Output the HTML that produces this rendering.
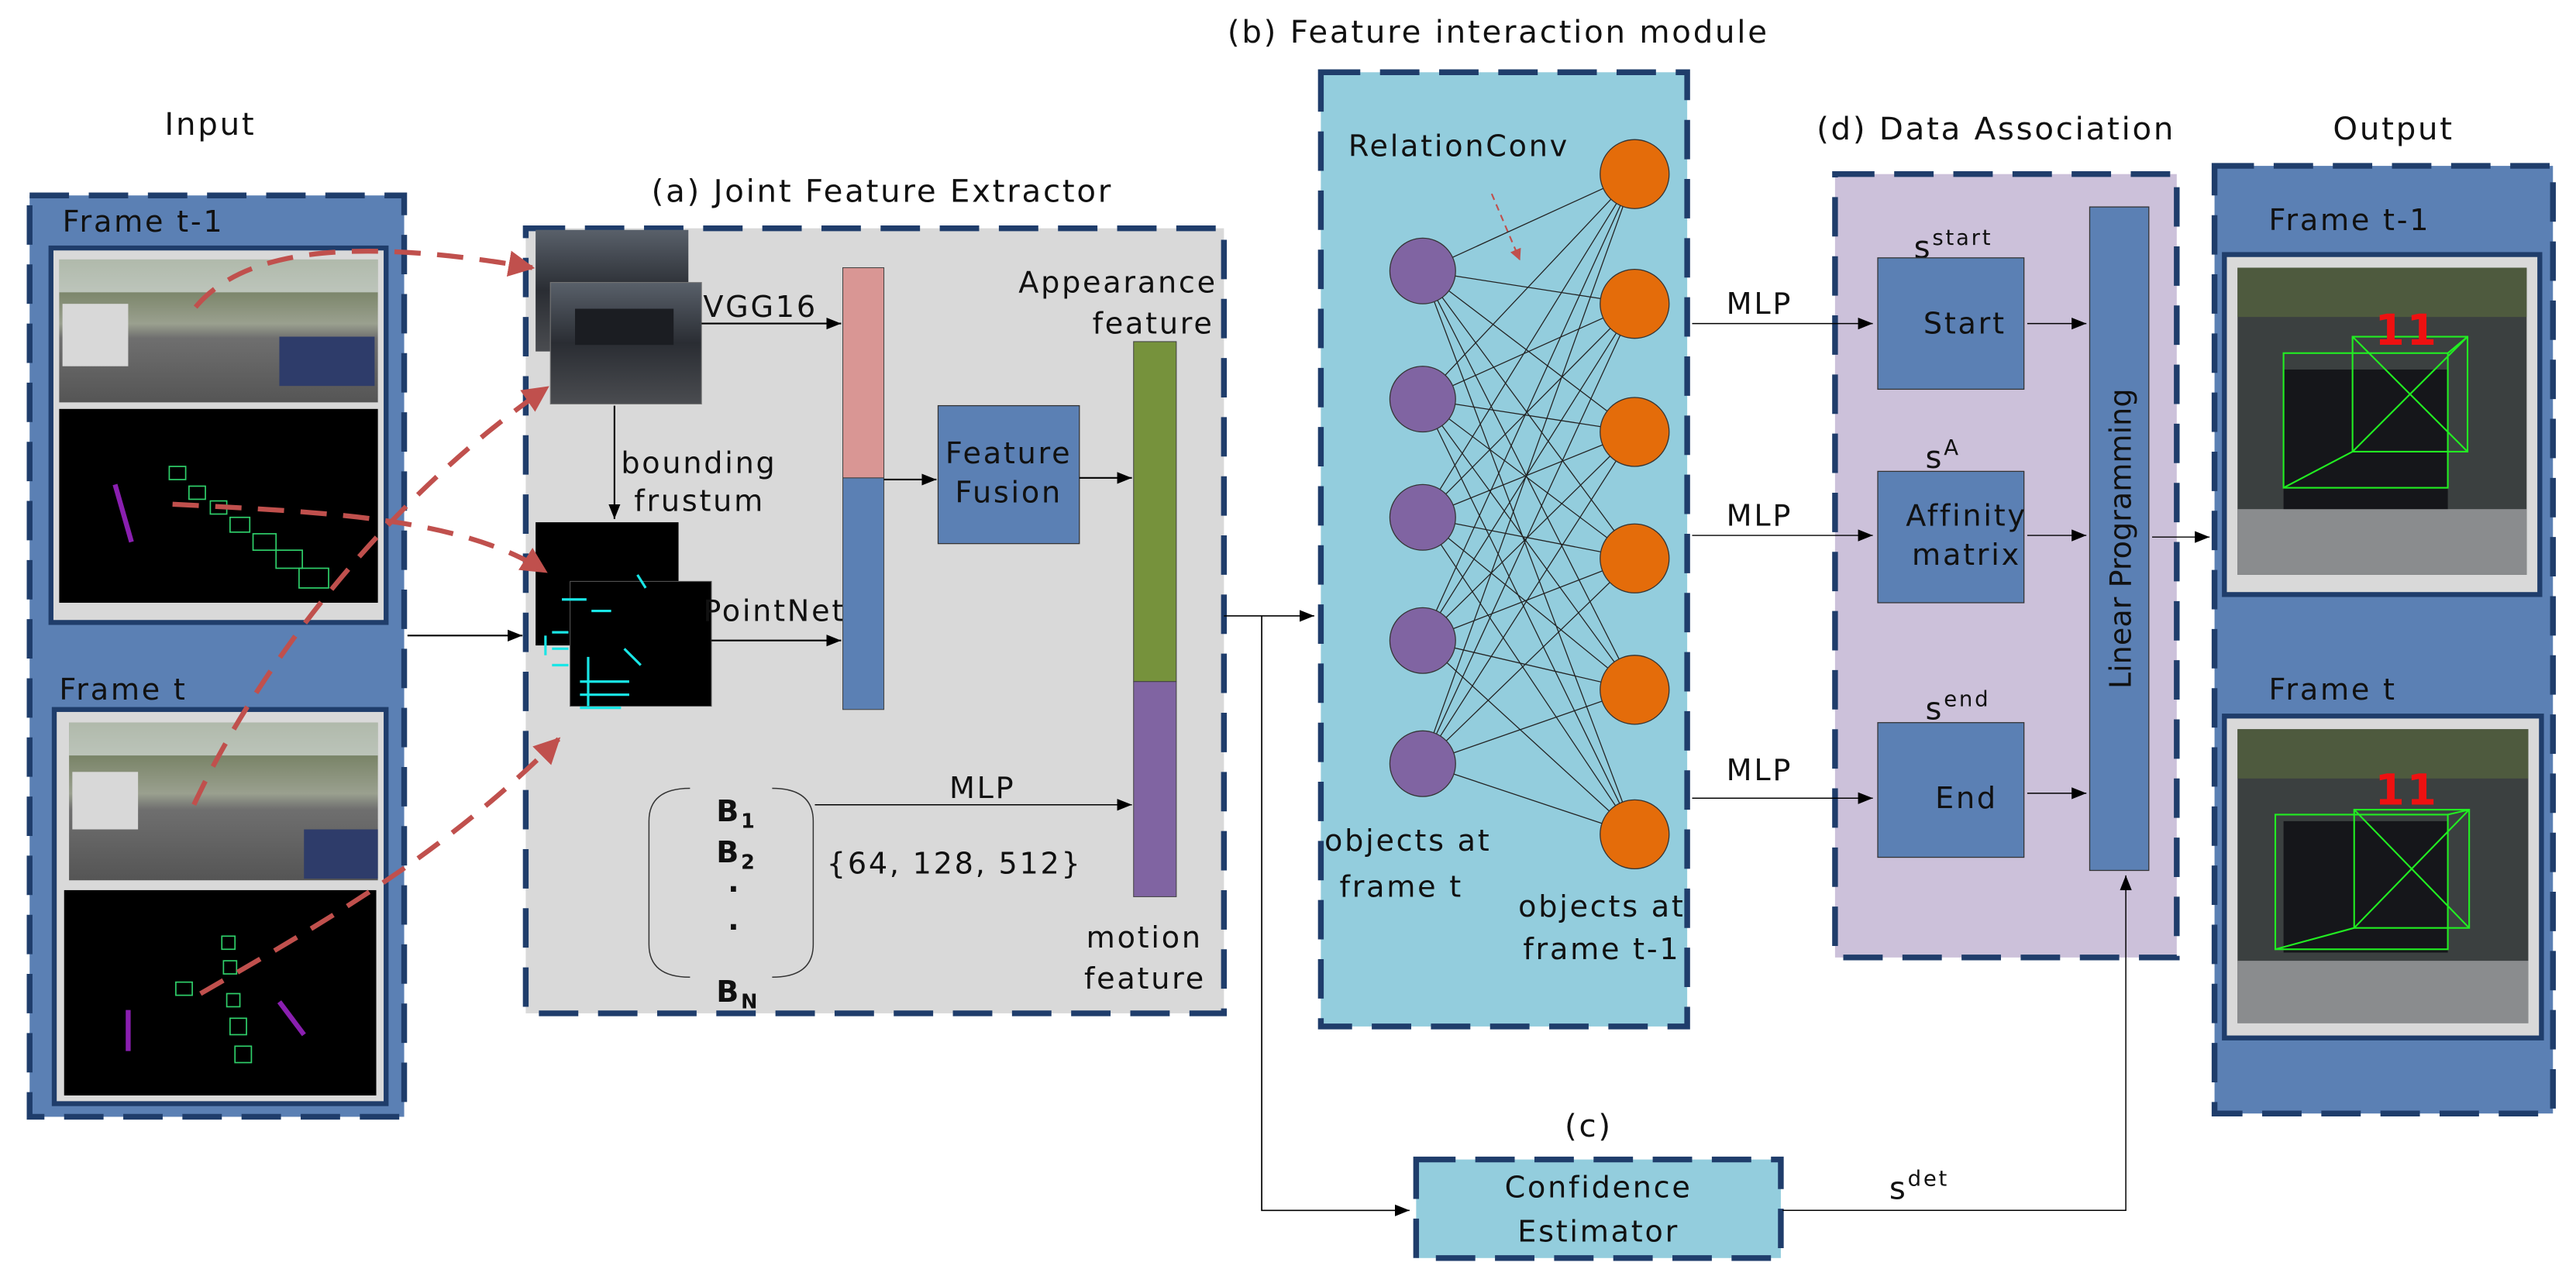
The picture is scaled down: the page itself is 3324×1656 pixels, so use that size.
<!DOCTYPE html>
<html><head><meta charset="utf-8"><style>
html,body{margin:0;padding:0;background:#fff}
svg{display:block}
text{font-family:"DejaVu Sans","Liberation Sans",sans-serif;fill:#111;letter-spacing:1.3px}
</style></head><body>
<svg width="3324" height="1656" viewBox="0 0 1568 781.2" xmlns="http://www.w3.org/2000/svg">
<defs>
<marker id="a" viewBox="0 0 10 10" refX="10" refY="5" markerWidth="9" markerHeight="9" orient="auto" markerUnits="userSpaceOnUse"><path d="M0,1 L10,5 L0,9 z" fill="#000"/></marker>
<marker id="r" viewBox="0 0 10 10" refX="9" refY="5" markerWidth="16" markerHeight="16" orient="auto" markerUnits="userSpaceOnUse"><path d="M0,0 L10,5 L0,10 z" fill="#c0504d"/></marker>
<marker id="rs" viewBox="0 0 10 10" refX="9" refY="5" markerWidth="7" markerHeight="7" orient="auto" markerUnits="userSpaceOnUse"><path d="M0,0 L10,5 L0,10 z" fill="#c0504d"/></marker>
<linearGradient id="street" x1="0" y1="0" x2="0" y2="1"><stop offset="0" stop-color="#5d6b45"/><stop offset="0.45" stop-color="#9aa08f"/><stop offset="0.55" stop-color="#6f6f6f"/><stop offset="1" stop-color="#555"/></linearGradient>
<linearGradient id="car" x1="0" y1="0" x2="0" y2="1"><stop offset="0" stop-color="#59606a"/><stop offset="0.5" stop-color="#2a2d33"/><stop offset="1" stop-color="#4a4c50"/></linearGradient>
</defs>

<!-- Input -->
<text x="128" y="82" font-size="19" text-anchor="middle">Input</text>
<rect x="18" y="119" width="228" height="561" fill="#5b80b4" stroke="#1f3d6b" stroke-width="3.5" stroke-dasharray="24,12"/>
<text x="38" y="141" font-size="18">Frame t-1</text>
<rect x="31" y="151" width="204" height="228" fill="#d9d9d9" stroke="#1f3d6b" stroke-width="3"/>
<rect x="36" y="158" width="194" height="87" fill="url(#street)"/>
<rect x="36" y="158" width="194" height="20" fill="#e8eef0" opacity="0.6"/>
<rect x="38" y="185" width="40" height="38" fill="#d8d8d8"/>
<rect x="170" y="205" width="58" height="30" fill="#2e3c6a"/>
<rect x="36" y="249" width="194" height="118" fill="#000"/>
<g stroke="#2fcf6a" stroke-width="0.8" fill="none"><rect x="115" y="296" width="10" height="8"/><rect x="128" y="305" width="10" height="8"/><rect x="140" y="315" width="12" height="9"/><rect x="154" y="325" width="14" height="10"/><rect x="168" y="335" width="16" height="11"/><rect x="182" y="346" width="18" height="12"/><rect x="103" y="284" width="10" height="8"/></g>
<path d="M70,295 L80,330" stroke="#8a1fb0" stroke-width="3"/>

<text x="36" y="426" font-size="18">Frame t</text>
<rect x="33" y="432" width="202" height="240" fill="#d9d9d9" stroke="#1f3d6b" stroke-width="3"/>
<rect x="42" y="440" width="188" height="96" fill="url(#street)"/>
<rect x="42" y="440" width="188" height="20" fill="#e8eef0" opacity="0.6"/>
<rect x="44" y="470" width="40" height="35" fill="#d8d8d8"/>
<rect x="185" y="505" width="45" height="30" fill="#2e3c6a"/>
<rect x="39" y="542" width="190" height="125" fill="#000"/>
<g stroke="#2fcf6a" stroke-width="0.8" fill="none"><rect x="107" y="598" width="10" height="8"/><rect x="136" y="585" width="8" height="8"/><rect x="138" y="605" width="8" height="8"/><rect x="140" y="620" width="10" height="10"/><rect x="143" y="637" width="10" height="10"/><rect x="135" y="570" width="8" height="8"/></g>
<path d="M78,615 L78,640 M170,610 L185,630" stroke="#8a1fb0" stroke-width="3"/>

<!-- Joint Feature Extractor -->
<text x="537" y="123" font-size="19" text-anchor="middle">(a) Joint Feature Extractor</text>
<rect x="320" y="139" width="425" height="478" fill="#d9d9d9" stroke="#1f3d6b" stroke-width="3.5" stroke-dasharray="24,12"/>
<rect x="326" y="140" width="93" height="74" fill="url(#car)"/>
<rect x="335" y="172" width="92" height="74" fill="url(#car)" stroke="#777" stroke-width="0.5"/>
<rect x="350" y="188" width="60" height="22" fill="#1b1d22"/>
<text x="428" y="193" font-size="18">VGG16</text>
<line x1="427" y1="197" x2="512" y2="197" stroke="#000" stroke-width="1" marker-end="url(#a)"/>
<text x="378" y="288" font-size="18">bounding</text>
<text x="386" y="311" font-size="18">frustum</text>
<line x1="374" y1="247" x2="374" y2="316" stroke="#000" stroke-width="1" marker-end="url(#a)"/>
<rect x="326" y="318" width="87" height="75" fill="#000"/>
<rect x="347" y="354" width="86" height="76" fill="#000" stroke="#555" stroke-width="0.5"/>
<g stroke="#19e6e6" stroke-width="1.5" fill="none"><path d="M342,365 h15 M332,387 v12 M336,385 h10 M336,395 h10 M336,405 h10 M360,372 h12 M353,415 h30 M353,423 h30 M353,431 h25 M358,400 v30 M388,350 l5,8 M380,395 l10,10"/></g>
<text x="428" y="378" font-size="18">PointNet</text>
<line x1="433" y1="390" x2="512" y2="390" stroke="#000" stroke-width="1" marker-end="url(#a)"/>
<line x1="248" y1="387" x2="318" y2="387" stroke="#000" stroke-width="1" marker-end="url(#a)"/>

<!-- red dashed -->
<g stroke="#c0504d" stroke-width="3" fill="none" stroke-dasharray="16,10">
<path d="M119,187 C150,150 220,145 324,163" marker-end="url(#r)"/>
<path d="M105,307 C200,312 280,315 332,348" marker-end="url(#r)"/>
<path d="M118,490 C160,400 240,300 333,236" marker-end="url(#r)"/>
<path d="M122,605 C200,560 270,520 340,450" marker-end="url(#r)"/>
</g>

<rect x="513" y="163" width="25" height="128" fill="#d99694" stroke="#444" stroke-width="0.5"/>
<rect x="513" y="291" width="25" height="141" fill="#5b80b4" stroke="#444" stroke-width="0.5"/>
<line x1="538" y1="292" x2="570" y2="292" stroke="#000" stroke-width="1" marker-end="url(#a)"/>
<rect x="571" y="247" width="86" height="84" fill="#5b80b4" stroke="#333" stroke-width="0.6"/>
<text x="614" y="282" font-size="18" text-anchor="middle">Feature</text>
<text x="614" y="306" font-size="18" text-anchor="middle">Fusion</text>
<line x1="657" y1="291" x2="689" y2="291" stroke="#000" stroke-width="1" marker-end="url(#a)"/>
<text x="741" y="178" font-size="18" text-anchor="end">Appearance</text>
<text x="739" y="203" font-size="18" text-anchor="end">feature</text>
<rect x="690" y="208" width="26" height="207" fill="#76923c" stroke="#444" stroke-width="0.5"/>
<rect x="690" y="415" width="26" height="131" fill="#8064a2" stroke="#444" stroke-width="0.5"/>
<text x="732" y="577" font-size="18" text-anchor="end">motion</text>
<text x="734" y="602" font-size="18" text-anchor="end">feature</text>
<path d="M420,480 Q395,480 395,500 L395,575 Q395,595 420,595" fill="none" stroke="#333" stroke-width="0.7"/>
<path d="M470,480 Q495,480 495,500 L495,575 Q495,595 470,595" fill="none" stroke="#333" stroke-width="0.7"/>
<g font-size="18" font-weight="bold"><text x="436" y="500">B<tspan font-size="12" dy="4">1</tspan></text>
<text x="436" y="525">B<tspan font-size="12" dy="4">2</tspan></text>
<text x="443" y="543">.</text><text x="443" y="566">.</text>
<text x="436" y="610">B<tspan font-size="12" dy="4">N</tspan></text></g>
<line x1="496" y1="490" x2="689" y2="490" stroke="#000" stroke-width="0.7" marker-end="url(#a)"/>
<text x="598" y="486" font-size="18" text-anchor="middle">MLP</text>
<text x="581" y="532" font-size="18" text-anchor="middle">{64, 128, 512}</text>

<!-- connectors -->
<line x1="745" y1="375" x2="800" y2="375" stroke="#000" stroke-width="0.8" marker-end="url(#a)"/>
<polyline points="768,375 768,737 858,737" fill="none" stroke="#000" stroke-width="0.8" marker-end="url(#a)"/>

<!-- FIM -->
<text x="912" y="26" font-size="19" text-anchor="middle">(b) Feature interaction module</text>
<rect x="804" y="44" width="223" height="581" fill="#93cddd" stroke="#1f3d6b" stroke-width="3.5" stroke-dasharray="24,12"/>
<text x="888" y="95" font-size="18" text-anchor="middle">RelationConv</text>
<line x1="908" y1="118" x2="925" y2="158" stroke="#c0504d" stroke-width="1" stroke-dasharray="4,3" marker-end="url(#rs)"/>
<g stroke="#222" stroke-width="0.6">
<line x1="866" y1="165" x2="995" y2="106"/><line x1="866" y1="165" x2="995" y2="185"/><line x1="866" y1="165" x2="995" y2="263"/><line x1="866" y1="165" x2="995" y2="340"/><line x1="866" y1="165" x2="995" y2="420"/><line x1="866" y1="165" x2="995" y2="508"/>
<line x1="866" y1="243" x2="995" y2="106"/><line x1="866" y1="243" x2="995" y2="185"/><line x1="866" y1="243" x2="995" y2="263"/><line x1="866" y1="243" x2="995" y2="340"/><line x1="866" y1="243" x2="995" y2="420"/><line x1="866" y1="243" x2="995" y2="508"/>
<line x1="866" y1="315" x2="995" y2="106"/><line x1="866" y1="315" x2="995" y2="185"/><line x1="866" y1="315" x2="995" y2="263"/><line x1="866" y1="315" x2="995" y2="340"/><line x1="866" y1="315" x2="995" y2="420"/><line x1="866" y1="315" x2="995" y2="508"/>
<line x1="866" y1="390" x2="995" y2="106"/><line x1="866" y1="390" x2="995" y2="185"/><line x1="866" y1="390" x2="995" y2="263"/><line x1="866" y1="390" x2="995" y2="340"/><line x1="866" y1="390" x2="995" y2="420"/><line x1="866" y1="390" x2="995" y2="508"/>
<line x1="866" y1="465" x2="995" y2="106"/><line x1="866" y1="465" x2="995" y2="185"/><line x1="866" y1="465" x2="995" y2="263"/><line x1="866" y1="465" x2="995" y2="340"/><line x1="866" y1="465" x2="995" y2="420"/><line x1="866" y1="465" x2="995" y2="508"/>
</g>
<g fill="#8064a2" stroke="#333" stroke-width="0.6">
<circle cx="866" cy="165" r="20"/><circle cx="866" cy="243" r="20"/><circle cx="866" cy="315" r="20"/><circle cx="866" cy="390" r="20"/><circle cx="866" cy="465" r="20"/></g>
<g fill="#e46c0a" stroke="#333" stroke-width="0.6">
<circle cx="995" cy="106" r="21"/><circle cx="995" cy="185" r="21"/><circle cx="995" cy="263" r="21"/><circle cx="995" cy="340" r="21"/><circle cx="995" cy="420" r="21"/><circle cx="995" cy="508" r="21"/></g>
<text x="857" y="518" font-size="18" text-anchor="middle">objects at</text>
<text x="853" y="546" font-size="18" text-anchor="middle">frame t</text>
<text x="975" y="558" font-size="18" text-anchor="middle">objects at</text>
<text x="975" y="584" font-size="18" text-anchor="middle">frame t-1</text>

<!-- Data association -->
<text x="1215" y="85" font-size="19" text-anchor="middle">(d) Data Association</text>
<rect x="1117" y="106" width="208" height="477" fill="#ccc1da" stroke="#1f3d6b" stroke-width="3.5" stroke-dasharray="24,12"/>
<line x1="1030" y1="197" x2="1140" y2="197" stroke="#000" stroke-width="0.7" marker-end="url(#a)"/>
<line x1="1030" y1="326" x2="1140" y2="326" stroke="#000" stroke-width="0.7" marker-end="url(#a)"/>
<line x1="1030" y1="486" x2="1140" y2="486" stroke="#000" stroke-width="0.7" marker-end="url(#a)"/>
<text x="1071" y="191" font-size="18" text-anchor="middle">MLP</text>
<text x="1071" y="320" font-size="18" text-anchor="middle">MLP</text>
<text x="1071" y="475" font-size="18" text-anchor="middle">MLP</text>
<text x="1165" y="157" font-size="19">s<tspan font-size="13" dy="-8">start</tspan></text>
<rect x="1143" y="157" width="89" height="80" fill="#5b80b4" stroke="#333" stroke-width="0.6"/>
<text x="1196" y="203" font-size="18" text-anchor="middle">Start</text>
<text x="1172" y="285" font-size="19">s<tspan font-size="13" dy="-8">A</tspan></text>
<rect x="1143" y="287" width="89" height="80" fill="#5b80b4" stroke="#333" stroke-width="0.6"/>
<text x="1197" y="320" font-size="18" text-anchor="middle">Affinity</text>
<text x="1197" y="344" font-size="18" text-anchor="middle">matrix</text>
<text x="1172" y="438" font-size="19">s<tspan font-size="13" dy="-8">end</tspan></text>
<rect x="1143" y="440" width="89" height="82" fill="#5b80b4" stroke="#333" stroke-width="0.6"/>
<text x="1197" y="492" font-size="18" text-anchor="middle">End</text>
<rect x="1272" y="126" width="36" height="404" fill="#5b80b4" stroke="#333" stroke-width="0.6"/>
<text transform="translate(1297,328) rotate(-90)" font-size="18" text-anchor="middle" style="letter-spacing:0">Linear Programming</text>
<line x1="1234" y1="197" x2="1270" y2="197" stroke="#000" stroke-width="0.7" marker-end="url(#a)"/>
<line x1="1234" y1="326" x2="1270" y2="326" stroke="#000" stroke-width="0.7" marker-end="url(#a)"/>
<line x1="1234" y1="483" x2="1270" y2="483" stroke="#000" stroke-width="0.7" marker-end="url(#a)"/>

<!-- confidence -->
<text x="967" y="692" font-size="19" text-anchor="middle">(c)</text>
<rect x="862" y="706" width="222" height="60" fill="#93cddd" stroke="#1f3d6b" stroke-width="3.5" stroke-dasharray="24,12"/>
<text x="973" y="729" font-size="18" text-anchor="middle">Confidence</text>
<text x="973" y="756" font-size="18" text-anchor="middle">Estimator</text>
<polyline points="1085,737 1294,737 1294,533" fill="none" stroke="#000" stroke-width="0.7" marker-end="url(#a)"/>
<text x="1150" y="730" font-size="19">s<tspan font-size="13" dy="-8">det</tspan></text>

<!-- Output -->
<text x="1457" y="85" font-size="19" text-anchor="middle">Output</text>
<rect x="1348" y="101" width="206" height="577" fill="#5b80b4" stroke="#1f3d6b" stroke-width="3.5" stroke-dasharray="24,12"/>
<line x1="1310" y1="327" x2="1345" y2="327" stroke="#000" stroke-width="0.7" marker-end="url(#a)"/>
<text x="1381" y="140" font-size="18">Frame t-1</text>
<rect x="1354" y="155" width="192" height="207" fill="#d9d9d9" stroke="#1f3d6b" stroke-width="3"/>
<rect x="1362" y="163" width="176" height="187" fill="#3b4040"/>
<rect x="1362" y="163" width="176" height="30" fill="#4e5a3e"/>
<rect x="1362" y="310" width="176" height="40" fill="#8a8c8e"/>
<rect x="1390" y="225" width="100" height="85" fill="#15161a"/>
<g stroke="#22ee22" stroke-width="1" fill="none"><rect x="1390" y="215" width="100" height="82"/><rect x="1432" y="205" width="70" height="70"/><path d="M1390,297 L1432,275 M1490,215 L1502,205 M1432,205 L1502,275 M1432,275 L1502,205"/></g>
<text x="1465" y="210" font-size="26" font-weight="bold" style="fill:#ee1111" text-anchor="middle">11</text>
<text x="1381" y="426" font-size="18">Frame t</text>
<rect x="1354" y="436" width="193" height="196" fill="#d9d9d9" stroke="#1f3d6b" stroke-width="3"/>
<rect x="1362" y="444" width="177" height="179" fill="#3b4040"/>
<rect x="1362" y="444" width="177" height="30" fill="#4e5a3e"/>
<rect x="1362" y="585" width="177" height="38" fill="#8a8c8e"/>
<rect x="1390" y="500" width="100" height="80" fill="#15161a"/>
<g stroke="#22ee22" stroke-width="1" fill="none"><rect x="1385" y="496" width="105" height="82"/><rect x="1433" y="493" width="70" height="72"/><path d="M1385,578 L1433,565 M1490,496 L1503,493 M1433,493 L1503,565 M1433,565 L1503,493"/></g>
<text x="1465" y="490" font-size="26" font-weight="bold" style="fill:#ee1111" text-anchor="middle">11</text>
</svg>
</body></html>
